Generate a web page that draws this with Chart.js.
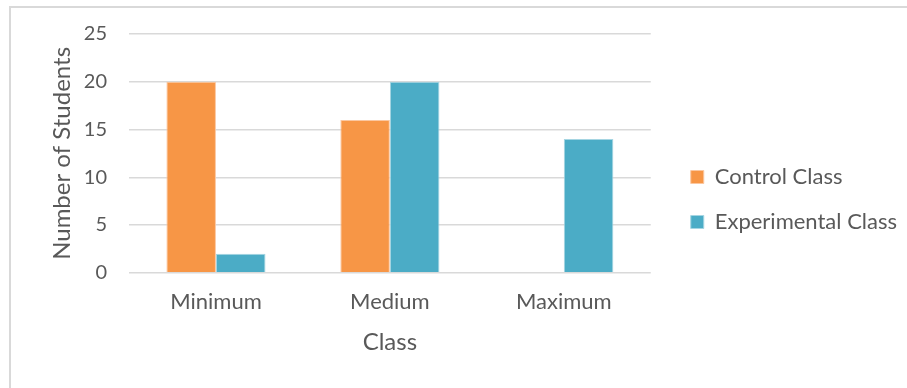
<!DOCTYPE html>
<html>
<head>
<meta charset="utf-8">
<script src="https://cdn.jsdelivr.net/npm/chart.js@4/dist/chart.umd.min.js"></script>
<style>
  html, body { margin: 0; padding: 0; background: #fff; overflow: hidden; }
  #wrap { position: relative; width: 907px; height: 388px; overflow: hidden; }
  #frame { position: absolute; left: 9px; top: 6px; width: 910px; height: 400px; border: 2px solid #d9d9d9; box-sizing: border-box; }
  canvas { position: absolute; left: 0; top: 0; }
</style>
</head>
<body>
<div id="wrap">
  <div id="frame"></div>
  <canvas id="myChart" width="907" height="388"></canvas>
</div>
<script>
let categories = ['Minimum', 'Medium', 'Maximum']
let controlClass = [20, 16, 0]
let experimentalClass = [2, 20, 14]
let yTicks = [0, 5, 10, 15, 20, 25]

let textColor = '#595959'
let fontName = 'Lato, "Open Sans", sans-serif'

// nudge the legend a bit away from the plot, like the original
let legendShift = {
    id: 'legendShift',
    afterLayout: chart => {
        let lg = chart.legend
        lg.left += 17
        lg.right += 17
        lg.top += 6
        lg.bottom += 6
    }
}

function drawChart() {
    var ctx = document.getElementById('myChart').getContext('2d');
    var chart = new Chart(ctx, {
        type: 'bar',
        data: {
            labels: categories,
            datasets: [{
                label: 'Control Class',
                backgroundColor: '#F79646',
                borderColor: '#FBC7A0',
                borderWidth: 1,
                data: controlClass
            }, {
                label: 'Experimental Class',
                backgroundColor: '#4BACC6',
                borderColor: '#A5D5E2',
                borderWidth: 1,
                data: experimentalClass
            }]
        },
        options: {
            responsive: false,
            animation: false,
            layout: { padding: { top: 26, left: 44, right: 17, bottom: 27 } },
            datasets: { bar: { categoryPercentage: 0.57, barPercentage: 1 } },
            plugins: {
                tooltip: { enabled: false },
                legend: {
                    position: 'right',
                    align: 'center',
                    maxWidth: 300,
                    labels: {
                        color: textColor,
                        font: { family: fontName, size: 22 },
                        boxWidth: 13,
                        boxHeight: 13,
                        padding: 23,
                        useBorderRadius: false
                    }
                }
            },
            scales: {
                x: {
                    grid: { display: false },
                    border: { display: false },
                    ticks: { color: textColor, font: { family: fontName, size: 22 }, padding: 8 },
                    title: { display: true, text: 'Class', color: textColor, font: { family: fontName, size: 24 }, padding: { top: 5 } }
                },
                y: {
                    min: 0,
                    max: 25,
                    afterBuildTicks: axis => { axis.ticks = yTicks.map(v => ({ value: v })) },
                    afterFit: axis => { axis.width -= 15 },
                    grid: { color: '#d9d9d9', lineWidth: 1.5, drawTicks: false },
                    border: { display: false },
                    ticks: { color: textColor, font: { family: fontName, size: 20 }, padding: 22 },
                    title: { display: true, text: 'Number of Students', color: textColor, font: { family: fontName, size: 24 }, padding: { top: 4, bottom: 0 } }
                }
            }
        },
        plugins: [legendShift]
    })
}

Promise.all([
    document.fonts.load('22px Lato'),
    document.fonts.load('24px Lato')
]).then(drawChart, drawChart)
</script>
</body>
</html>
